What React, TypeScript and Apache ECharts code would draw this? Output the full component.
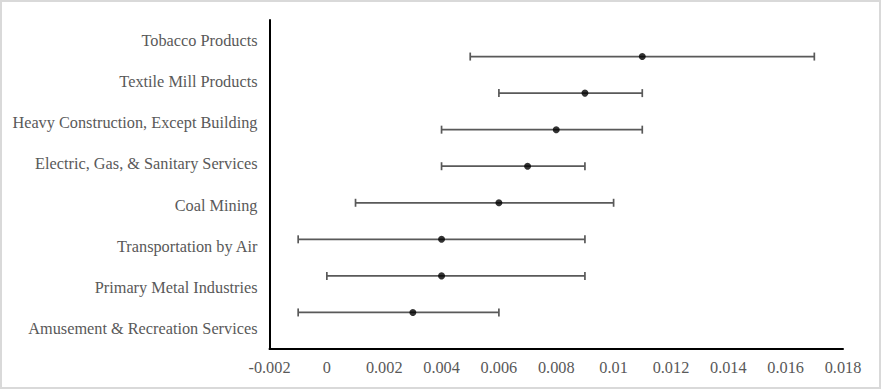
import React, { useEffect, useRef } from "react";
import * as echarts from "echarts";

// Top-to-bottom order as shown in the chart
const categories = [
  "Tobacco Products",
  "Textile Mill Products",
  "Heavy Construction, Except Building",
  "Electric, Gas, & Sanitary Services",
  "Coal Mining",
  "Transportation by Air",
  "Primary Metal Industries",
  "Amusement & Recreation Services",
];
const means = [0.011, 0.009, 0.008, 0.007, 0.006, 0.004, 0.004, 0.003];
const lows = [0.005, 0.006, 0.004, 0.004, 0.001, -0.001, 0, -0.001];
const highs = [0.017, 0.011, 0.011, 0.009, 0.01, 0.009, 0.009, 0.006];

const FONT = "'Liberation Serif', 'Times New Roman', serif";

export default function App() {
  const ref = useRef<HTMLDivElement>(null);

  useEffect(() => {
    if (!ref.current) return;
    const chart = echarts.init(ref.current, undefined, { renderer: "svg" });
    const n = categories.length;
    const yPos = categories.map((_, i) => n - i);
    const scatterData = means.map((m, i) => [m, yPos[i]]);
    const barData = lows.map((l, i) => [l, highs[i], yPos[i]]);

    chart.setOption({
      animation: false,
      backgroundColor: "#ffffff",
      graphic: [
        {
          type: "rect",
          shape: { x: 1, y: 1, width: 879, height: 387 },
          style: { fill: "none", stroke: "#d9d9d9", lineWidth: 2 },
          silent: true,
        },
      ],
      grid: { left: 269.5, right: 39, top: 20, bottom: 41, containLabel: false },
      xAxis: {
        type: "value",
        min: -0.002,
        max: 0.018,
        interval: 0.002,
        axisLine: { show: true, onZero: false, lineStyle: { color: "#000000", width: 2 } },
        axisTick: { show: false },
        splitLine: { show: false },
        axisLabel: {
          color: "#595959",
          fontFamily: FONT,
          fontSize: 16.3,
          margin: 10,
          formatter: (v: number) => String(parseFloat(v.toFixed(3))),
        },
      },
      yAxis: [
        {
          type: "category",
          data: categories.slice().reverse(),
          axisLine: { show: true, onZero: false, lineStyle: { color: "#000000", width: 2 } },
          axisTick: { show: false },
          splitLine: { show: false },
          axisLabel: {
            color: "#595959",
            fontFamily: FONT,
            fontSize: 16.3,
            margin: 12,
          },
        },
        {
          type: "value",
          min: 0,
          max: 9,
          show: false,
          position: "left",
          splitLine: { show: false },
          axisLine: { show: false, onZero: false },
        },
      ],
      series: [
        {
          type: "custom",
          xAxisIndex: 0,
          yAxisIndex: 1,
          encode: { x: [0, 1], y: 2 },
          data: barData,
          renderItem: (params: any, api: any) => {
            const y = api.value(2);
            const p1 = api.coord([api.value(0), y]);
            const p2 = api.coord([api.value(1), y]);
            const capH = 4;
            const style = { stroke: "#595959", lineWidth: 1.7 };
            return {
              type: "group",
              children: [
                { type: "line", shape: { x1: p1[0], y1: p1[1], x2: p2[0], y2: p2[1] }, style },
                { type: "line", shape: { x1: p1[0], y1: p1[1] - capH, x2: p1[0], y2: p1[1] + capH }, style },
                { type: "line", shape: { x1: p2[0], y1: p2[1] - capH, x2: p2[0], y2: p2[1] + capH }, style },
              ],
            };
          },
          z: 2,
        },
        {
          type: "scatter",
          xAxisIndex: 0,
          yAxisIndex: 1,
          data: scatterData,
          symbol: "circle",
          symbolSize: 7,
          itemStyle: { color: "#000000" },
          z: 3,
        },
      ],
    });
    return () => chart.dispose();
  }, []);

  return (
    <div
      ref={ref}
      style={{ position: "fixed", left: 0, top: 0, width: 882, height: 390, background: "#fff" }}
    />
  );
}
